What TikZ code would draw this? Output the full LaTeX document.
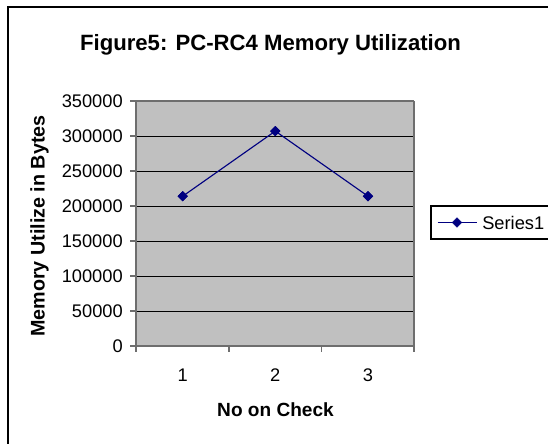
\documentclass[tikz,border=0pt]{standalone}
\usepackage{fontspec}
\setmainfont{Liberation Sans}
\usetikzlibrary{shapes.geometric}
\definecolor{plotbg}{RGB}{192,192,192}
\definecolor{series}{RGB}{0,0,128}
\definecolor{axisgray}{RGB}{110,110,110}
\begin{document}
\begin{tikzpicture}[x=0.75pt,y=-0.75pt,
  ticklabel/.style={font=\fontsize{13.7}{15}\selectfont,inner sep=0pt},
  axistitle/.style={font=\fontsize{14.3}{16}\selectfont\bfseries,inner sep=0pt},
  datamark/.style={diamond,fill=series,draw=series,line width=0.4pt,inner sep=0pt,minimum width=7.2pt,minimum height=7.2pt},
  seriesline/.style={draw=series,line width=0.85pt},
  grid/.style={draw=black,line width=0.75pt},
]
\useasboundingbox (0,0) rectangle (548,443);
\clip (0,0) rectangle (548,443);
\fill[white] (0,0) rectangle (548,443);
% chart border
\draw[line width=1.2pt] (8,7) rectangle (620,520);
% title
\node[font=\fontsize{16.6}{18}\selectfont\bfseries,inner sep=0pt] (title) at (270.5,45) {Figure5: PC-RC4 Memory Utilization};
% plot area
\fill[plotbg] (136,101) rectangle (414,346);
\foreach \k in {1,...,7}{
  \draw[grid] (136,{346-35*\k}) -- (414,{346-35*\k});
}
\draw[axisgray,line width=0.9pt] (414,101) -- (414,346);
\draw[axisgray,line width=0.9pt] (136,101) -- (414,101);
% axes
\draw[axisgray,line width=1pt] (136,101) -- (136,346);
\draw[axisgray,line width=1.2pt] (136,346) -- (414,346);
\foreach \k/\lab in {0/0,1/50000,2/100000,3/150000,4/200000,5/250000,6/300000,7/350000}{
  \draw[axisgray,line width=0.9pt] (130,{346-35*\k}) -- (136,{346-35*\k});
  \node[ticklabel,anchor=east] (yl\k) at (123,{346-35*\k}) {\lab};
}
\foreach \x in {136,229,321.5,414}{
  \draw[axisgray,line width=0.9pt] (\x,346) -- (\x,352);
}
\foreach \x/\lab in {182.7/1,275.3/2,368/3}{
  \node[ticklabel] (xl\lab) at (\x,375) {\lab};
}
\node[axistitle] (xtitle) at (275.5,410) {No on Check};
\node[axistitle,font=\fontsize{14.8}{16}\selectfont\bfseries,rotate=90] (ytitle) at (39.5,226) {Memory Utilize in Bytes};
% data
\node[datamark] (p1) at (182.7,196.2) {};
\node[datamark] (p2) at (275.3,131.1) {};
\node[datamark] (p3) at (368,196.2) {};
\draw[seriesline] (p1.center) -- (p2.center) -- (p3.center);
\node[datamark] at (p1) {};
\node[datamark] at (p2) {};
\node[datamark] at (p3) {};
% legend
\draw[black,line width=0.8pt,fill=white] (431,206) rectangle (600,239);
\coordinate (la) at (437.5,222.5);
\coordinate (lb) at (477,222.5);
\draw[seriesline] (la) -- (lb);
\node[datamark] (lm) at (457,222.5) {};
\node[ticklabel,anchor=west] (legtext) at (482,222.5) {Series1};
\end{tikzpicture}
\end{document}
